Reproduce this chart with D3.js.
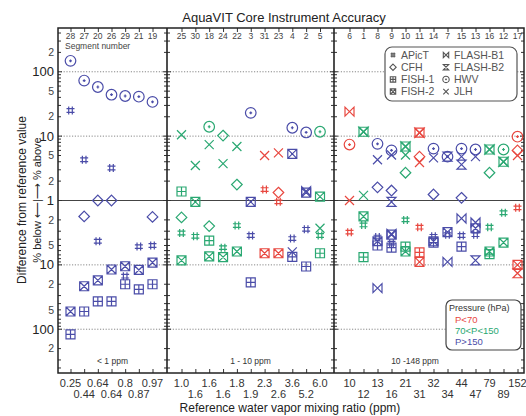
<!DOCTYPE html>
<html><head><meta charset="utf-8">
<script src="https://cdn.jsdelivr.net/npm/d3@7"></script>
<style>body{margin:0;background:#fff;} svg text{font-family:"Liberation Sans",Arial,sans-serif;}</style>
</head><body><svg id="c" width="526" height="416"></svg>
<script>
// ---------- DATA ----------
const panel1Segments = ["28","27","20","26","29","21","19"];
const panel1Ratios   = ["0.25","0.44","0.64","0.64","0.8","0.87","0.97"];
const panel2Segments = ["25","30","18","24","22","3","31","23","4","2","5"];
const panel2Ratios   = ["1.0","1.6","1.6","1.6","1.8","1.9","2.3","2.6","3.6","5.2","6.0"];
const panel3Segments = ["6","1","8","9","10","11","14","7","15","13","16","12","17"];
const panel3Ratios   = ["10","12","13","16","21","31","32","34","44","47","79","89","152"];
const panelLabels = ["< 1 ppm","1 - 10 ppm","10 -148 ppm"];
const yMajorTicks = [200,100,50,20,10,5,2,1,-2,-5,-10,-20,-50,-100,-200];
const yGridValues = [100,10,-10,-100];

// [segment, % difference, pressure class]  lo: P<70, mid: 70<P<150, hi: P>150
const APicT = [["28",25,"hi"],["27",4.3,"hi"],["20",-4.3,"hi"],["26",3.2,"hi"],["29",-15,"hi"],["21",-5.2,"hi"],["19",-5,"hi"],
 ["25",-3.2,"mid"],["30",-3.6,"mid"],["24",-5.4,"mid"],["22",-2.45,"mid"],["3",-3.5,"hi"],["31",1.48,"lo"],["23",-1.05,"lo"],["4",-3.9,"hi"],["2",-2.8,"hi"],["5",-3.5,"mid"],
 ["6",-3.1,"lo"],["1",-2.4,"mid"],["8",-3.7,"hi"],["9",-4.6,"hi"],["10",-2.0,"mid"],["11",-2.6,"lo"],["14",-3.6,"hi"],["7",-3.4,"hi"],["15",-3.5,"hi"],["13",-3.4,"hi"],["16",-2.6,"mid"],["12",-1.55,"mid"],["17",-1.3,"lo"]];
const CFH = [["27",-1.77,"hi"],["20",1.0,"hi"],["26",1.0,"hi"],["19",-1.8,"hi"],
 ["25",-1.83,"mid"],["18",-2.5,"mid"],["24",10.2,"mid"],["22",1.77,"mid"],["23",1.33,"lo"],
 ["8",1.6,"hi"],["9",1.43,"hi"],["10",2.7,"mid"],["11",4.8,"lo"],["14",1.24,"hi"],["15",1.1,"hi"],["16",2.7,"mid"],["17",6,"lo"]];
const FISH1 = [["28",-120,"hi"],["27",-53,"hi"],["20",-37,"hi"],["26",-37,"hi"],["29",-20,"hi"],["21",-24,"hi"],["19",-20,"hi"],
 ["25",1.38,"mid"],["18",-4.2,"mid"],["3",-18.7,"hi"],["4",-7.5,"hi"],["2",-10.6,"hi"],["5",-6.6,"mid"],
 ["1",-7.6,"mid"],["8",-5,"hi"],["9",-5.4,"hi"],["10",-5.2,"mid"],["11",-6.4,"lo"],["14",-4.5,"hi"],["15",-5.2,"hi"],["16",-6.8,"mid"]];
const FISH2 = [["28",-53,"hi"],["27",-21.5,"hi"],["20",-17.4,"hi"],["26",-11.8,"hi"],["29",-10.5,"hi"],["21",-12,"hi"],["19",-9.2,"hi"],
 ["25",-8.5,"mid"],["30",-1.05,"mid"],["18",-7.4,"mid"],["24",-7.6,"mid"],["22",-6.2,"mid"],["3",-1.05,"hi"],["31",-6.6,"lo"],["23",-6.6,"lo"],["4",5.3,"hi"],["2",1.33,"hi"],["5",1.15,"mid"],
 ["1",-1.77,"mid"],["8",-4.3,"hi"],["9",-3.4,"hi"],["10",-6.2,"mid"],["11",-9,"lo"],["14",-4.3,"hi"],["7",-3.1,"hi"],["13",-2.7,"hi"],["16",-6.2,"mid"],["12",-4.5,"mid"],["17",-10,"lo"]];
const FLASHB1 = [["2",1.4,"hi"],
 ["6",24,"lo"],["1",11.7,"mid"],["8",-23,"hi"],["9",-3.3,"hi"],["10",6.9,"mid"],["11",11.3,"lo"],["7",-9,"hi"],["15",-1.9,"hi"],["13",-2.2,"hi"],["16",6.2,"mid"],["12",4.0,"mid"]];
const FLASHB2 = [["1",11.7,"mid"],["9",-1.05,"hi"],["10",6.9,"mid"],["11",11.3,"lo"],["7",4.8,"hi"],["15",3.6,"hi"],["13",-8.5,"hi"],["16",6.2,"mid"],["12",4.0,"mid"],["17",-13.5,"lo"]];
const HWV = [["28",148,"hi"],["27",73,"hi"],["20",58,"hi"],["26",44,"hi"],["29",42,"hi"],["21",41,"hi"],["19",34,"hi"],
 ["18",14,"mid"],["3",23,"hi"],["4",13.5,"hi"],["2",11.4,"hi"],["5",11.7,"mid"],
 ["6",7.4,"lo"],["8",7.6,"hi"],["9",6,"hi"],["14",6.4,"hi"],["7",4.8,"hi"],["15",6.4,"hi"],["13",6.2,"hi"],["12",6.2,"mid"],["17",9.8,"lo"]];
const JLH = [["25",10.5,"mid"],["30",3.5,"mid"],["18",7.4,"mid"],["24",3.75,"mid"],["22",6.9,"mid"],["31",5,"lo"],["23",5.5,"lo"],["4",-6.3,"hi"],["5",-2.7,"mid"],
 ["6",1.0,"lo"],["1",1.2,"mid"],["8",4.3,"hi"],["9",5.1,"hi"],["10",5.1,"mid"],["11",3.9,"lo"],["14",4.6,"hi"],["15",4.8,"hi"],["13",4.8,"hi"],["17",5,"lo"]];

const instruments = [
 {name:"APicT", sym:"hash", data:APicT},
 {name:"CFH", sym:"diamond", data:CFH},
 {name:"FISH-1", sym:"boxplus", data:FISH1},
 {name:"FISH-2", sym:"boxx", data:FISH2},
 {name:"FLASH-B1", sym:"bowtie", data:FLASHB1},
 {name:"FLASH-B2", sym:"hourglass", data:FLASHB2},
 {name:"HWV", sym:"circdot", data:HWV},
 {name:"JLH", sym:"cross", data:JLH}
];
const pressureNames = ["P<70","70<P<150","P>150"];
const pressureKeys = ["lo","mid","hi"];

// ---------- LAYOUT ----------
const L=58, D1=167, D2=334, R=524, T=28, B=373;
const colors = {lo:"#e8473f", mid:"#2aa872", hi:"#4a4ca8"};
const axisCol = "#333";
const svg = d3.select("#c");

const yLin = d3.scaleLinear().domain([-2.68, 2.68]).range([B, T]);
const y = v => yLin(Math.sign(v)*Math.log10(Math.abs(v)));

const panels = [
 {segs:panel1Segments, ratios:panel1Ratios, x0:L, x1:D1, scale:d3.scalePoint().domain(panel1Segments).range([70.5,152.5])},
 {segs:panel2Segments, ratios:panel2Ratios, x0:D1, x1:D2, scale:d3.scalePoint().domain(panel2Segments).range([181.5,320])},
 {segs:panel3Segments, ratios:panel3Ratios, x0:D2, x1:R, scale:d3.scalePoint().domain(panel3Segments).range([349.5,517.5])}
];
const xOf = s => { for (const p of panels) if (p.segs.includes(s)) return p.scale(s); };

// symbols
function symPath(sym, k) {
  const s = 4.5*k;
  switch(sym){
    case "hash": { const a=1.8*k, b=4*k;
      return `M${-a},${-b}V${b}M${a},${-b}V${b}M${-b},${-a}H${b}M${-b},${a}H${b}`; }
    case "diamond": { const d=5.3*k; return `M0,${-d}L${d},0L0,${d}L${-d},0Z`; }
    case "boxplus": return `M${-s},${-s}H${s}V${s}H${-s}ZM${-s},0H${s}M0,${-s}V${s}`;
    case "boxx": return `M${-s},${-s}H${s}V${s}H${-s}ZM${-s},${-s}L${s},${s}M${-s},${s}L${s},${-s}`;
    case "bowtie": return `M${-s},${-s}L${s},${s}V${-s}L${-s},${s}Z`;
    case "hourglass": return `M${-s},${-s}H${s}L${-s},${s}H${s}Z`;
    case "cross": return `M${-s},${-s}L${s},${s}M${-s},${s}L${s},${-s}`;
    case "circdot": { const r=5.3*k, c=1.4*k;
      return `M${r},0A${r},${r} 0 1,1 ${-r},0A${r},${r} 0 1,1 ${r},0ZM${-c},0H${c}M0,${-c}V${c}`; }
  }
}

// ---------- GRID ----------
const grid = svg.append("g");
yGridValues.forEach(v => grid.append("line").attr("x1",L).attr("x2",R).attr("y1",y(v)).attr("y2",y(v))
  .attr("stroke","#888").attr("stroke-width",1).attr("stroke-dasharray","1.2,1.6"));
grid.append("line").attr("x1",L).attr("x2",R).attr("y1",y(1)).attr("y2",y(1)).attr("stroke","#444").attr("stroke-width",1.2);

// ---------- Y TICKS ----------
const minor = [];
[1,10,100].forEach(d => { for (let m=1;m<=9;m++){ const v=m*d; if (Math.log10(v)<=2.68){ minor.push(v); if(v!==1) minor.push(-v);} } });
const tickG = svg.append("g").attr("stroke",axisCol).attr("stroke-width",1);
[L, D1, D2, R].forEach((xx,i) => {
  minor.forEach(v => {
    const major = [1,10,100].includes(Math.abs(v));
    const len = major ? 4 : 3;
    const left = (i===0) ? 0 : len, right = (i===3) ? 0 : len;
    tickG.append("line").attr("x1",xx-left).attr("x2",xx+right).attr("y1",y(v)).attr("y2",y(v));
  });
});
// Y labels
const yLab = svg.append("g");
yMajorTicks.forEach(v => {
  const a = Math.abs(v);
  const dec = [1,10,100].includes(a);
  const txt = dec ? String(a) : String(a).charAt(0);
  yLab.append("text").attr("x", 54).attr("y", y(v)).attr("dy","0.35em").attr("text-anchor","end")
    .attr("font-size", dec ? 13 : 10.5).attr("fill", dec ? "#222" : "#444").text(txt);
});

// ---------- X AXES ----------
panels.forEach((p,pi) => {
  const gb = svg.append("g").attr("transform",`translate(0,${B})`)
    .call(d3.axisBottom(p.scale).tickSizeInner(-4).tickSizeOuter(0).tickFormat(""));
  gb.select(".domain").remove(); gb.selectAll("line").attr("stroke",axisCol);
  const gt = svg.append("g").attr("transform",`translate(0,${T})`)
    .call(d3.axisTop(p.scale).tickSizeInner(-4).tickSizeOuter(0).tickFormat(""));
  gt.select(".domain").remove(); gt.selectAll("line").attr("stroke",axisCol);
  // ratio labels in two rows
  p.segs.forEach((s,i) => {
    svg.append("text").attr("x",p.scale(s)).attr("y", i%2===0 ? 387 : 398).attr("text-anchor","middle")
      .attr("font-size",11).attr("fill","#333").text(p.ratios[i]);
    svg.append("text").attr("x",p.scale(s)).attr("y", 39).attr("text-anchor","middle")
      .attr("font-size",8.5).attr("fill","#444").text(s);
  });
  svg.append("text").attr("x",(p.x0+p.x1)/2 + (pi===2?-14:0)).attr("y",364).attr("text-anchor","middle")
    .attr("font-size",8.5).attr("fill","#333").text(panelLabels[pi]);
});
svg.append("text").attr("x",65).attr("y",49).attr("font-size",8.5).attr("fill","#444").text("Segment number");

// ---------- FRAME ----------
svg.append("rect").attr("x",L).attr("y",T).attr("width",R-L).attr("height",B-T)
  .attr("fill","none").attr("stroke","#222").attr("stroke-width",1.5);
[D1,D2].forEach(xx => svg.append("line").attr("x1",xx).attr("x2",xx).attr("y1",T).attr("y2",B)
  .attr("stroke","#222").attr("stroke-width",1.6));

// ---------- MARKS ----------
const marks = svg.append("g");
instruments.forEach(ins => {
  marks.selectAll(null).data(ins.data).enter().append("path")
    .attr("transform", d => `translate(${xOf(d[0])},${y(d[1])})`)
    .attr("d", symPath(ins.sym, 1))
    .attr("fill","none").attr("stroke", d => colors[d[2]]).attr("stroke-width",1.2);
});

// ---------- LEGENDS ----------
const lg = svg.append("g");
lg.append("rect").attr("x",385).attr("y",47).attr("width",132).attr("height",54).attr("rx",7)
  .attr("fill","#fff").attr("stroke","#555").attr("stroke-width",1.2);
instruments.forEach((ins,i) => {
  const col = Math.floor(i/4), row = i%4;
  const lx = 393 + col*53, ly = 55 + row*12.2;
  lg.append("path").attr("transform",`translate(${lx},${ly})`).attr("d",symPath(ins.sym,0.6))
    .attr("fill","none").attr("stroke","#555").attr("stroke-width",1.1);
  lg.append("text").attr("x",lx+8).attr("y",ly).attr("dy","0.35em").attr("font-size",10.5).attr("fill","#555").text(ins.name);
});
const pg = svg.append("g");
pg.append("rect").attr("x",446).attr("y",300).attr("width",75).attr("height",50).attr("rx",6)
  .attr("fill","#fff").attr("stroke","#444").attr("stroke-width",1.2);
pg.append("text").attr("x",449).attr("y",308).attr("dy","0.35em").attr("font-size",9).attr("fill","#333").text("Pressure (hPa)");
pressureKeys.forEach((k,i) => pg.append("text").attr("x",455).attr("y",320+i*11).attr("dy","0.35em")
  .attr("font-size",9.5).attr("fill",colors[k]).text(pressureNames[i]));

// ---------- TITLES ----------
svg.append("text").attr("x",284).attr("y",22).attr("text-anchor","middle").attr("font-size",13).attr("fill","#222")
  .text("AquaVIT Core Instrument Accuracy");
svg.append("text").attr("x",290).attr("y",412).attr("text-anchor","middle").attr("font-size",12).attr("fill","#222")
  .text("Reference water vapor mixing ratio (ppm)");
svg.append("text").attr("transform","translate(26,200) rotate(-90)").attr("text-anchor","middle").attr("font-size",12).attr("fill","#222")
  .text("Difference from reference value");
svg.append("text").attr("transform","translate(41,200) rotate(-90)").attr("text-anchor","middle").attr("font-size",11).attr("fill","#222")
  .text("% below ⟵|⟶ % above");
</script></body></html>
